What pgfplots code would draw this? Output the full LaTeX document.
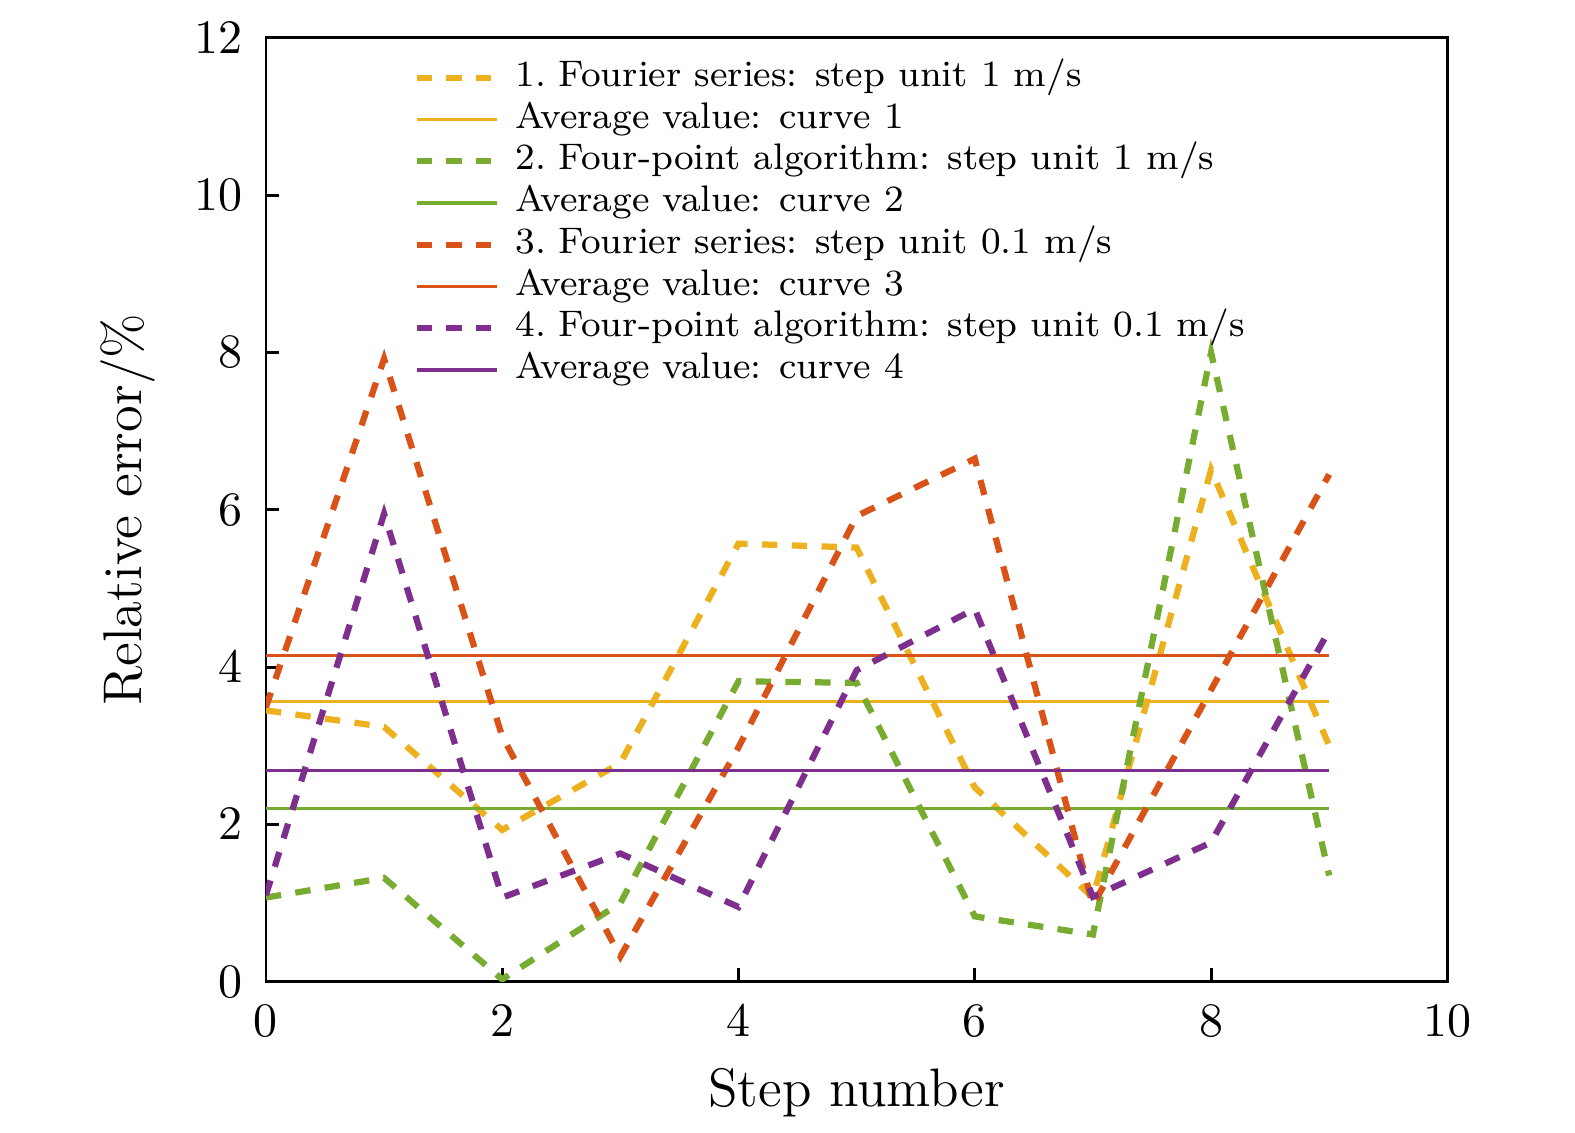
\documentclass[border=0pt]{standalone}
\usepackage{pgfplots}
\pgfplotsset{compat=1.18}
\definecolor{cA}{RGB}{237,177,32}
\definecolor{cB}{RGB}{119,172,48}
\definecolor{cC}{RGB}{217,83,25}
\definecolor{cD}{RGB}{126,47,142}
\begin{document}
\begin{tikzpicture}
\useasboundingbox (-55.4pt,-31.4pt) rectangle (272.7pt,204.5pt);
\begin{axis}[
  scale only axis,
  width=246.1pt, height=196.6pt,
  xmin=0, xmax=10, ymin=0, ymax=12,
  xtick={0,2,...,10}, ytick={0,2,...,12},
  axis line style={line width=0.6pt},
  every tick/.style={black, line width=0.6pt},
  major tick length=2.8pt,
  tick align=inside,
  xtick pos=bottom, ytick pos=left,
  tick label style={font=\fontsize{10}{12}\selectfont},
  xticklabel style={yshift=-1.5pt},
  yticklabel style={xshift=-1.3pt},
  xlabel={Step number},
  ylabel={Relative error/\%},
  every axis x label/.style={at={(axis description cs:0.5,-0.118)},anchor=center,font=\fontsize{11.3}{13}\selectfont},
  every axis y label/.style={at={(axis description cs:-0.117,0.5)},anchor=center,rotate=90,font=\fontsize{11.35}{13}\selectfont},
  legend style={draw=none, fill=none, at={(axis description cs:0.124,0.981)}, anchor=north west,
    font=\fontsize{7.7}{9}\selectfont, row sep=0pt, inner sep=0pt,
    nodes={inner sep=0.25pt, text height=5.9pt, text depth=2.3pt}},
  legend cell align=left,
  legend image code/.code={\draw[#1] (0pt,0pt) -- (16.7pt,0pt);},
  dashstyle/.style={line width=1.3pt, dash pattern=on 3.2pt off 3pt},
  avgstyle/.style={line width=0.65pt},
]
\addplot[cA, dashstyle] coordinates {(0,3.45)(1,3.24)(2,1.93)(3,2.78)(4,5.57)(5,5.52)(6,2.47)(7,1.07)(8,6.51)(9,3.0)};
\addlegendentry{\hspace{3pt}1.\ Fourier series: step unit 1 m/s}
\addplot[cA, avgstyle] coordinates {(0,3.56)(9,3.56)};
\addlegendentry{\hspace{3pt}Average value: curve 1}
\addplot[cB, dashstyle] coordinates {(0,1.07)(1,1.32)(2,0.03)(3,1.0)(4,3.82)(5,3.8)(6,0.83)(7,0.6)(8,8.0)(9,1.35)};
\addlegendentry{\hspace{3pt}2.\ Four-point algorithm: step unit 1 m/s}
\addplot[cB, avgstyle] coordinates {(0,2.2)(9,2.2)};
\addlegendentry{\hspace{3pt}Average value: curve 2}
\addplot[cC, dashstyle] coordinates {(0,3.49)(1,7.92)(2,3.12)(3,0.32)(4,2.98)(5,5.92)(6,6.65)(7,0.97)(8,3.71)(9,6.45)};
\addlegendentry{\hspace{3pt}3.\ Fourier series: step unit 0.1 m/s}
\addplot[cC, avgstyle] coordinates {(0,4.15)(9,4.15)};
\addlegendentry{\hspace{3pt}Average value: curve 3}
\addplot[cD, dashstyle] coordinates {(0,1.1)(1,5.95)(2,1.07)(3,1.63)(4,0.95)(5,3.96)(6,4.74)(7,1.08)(8,1.77)(9,4.47)};
\addlegendentry{\hspace{3pt}4.\ Four-point algorithm: step unit 0.1 m/s}
\addplot[cD, avgstyle] coordinates {(0,2.69)(9,2.69)};
\addlegendentry{\hspace{3pt}Average value: curve 4}
\end{axis}
\end{tikzpicture}
\end{document}
